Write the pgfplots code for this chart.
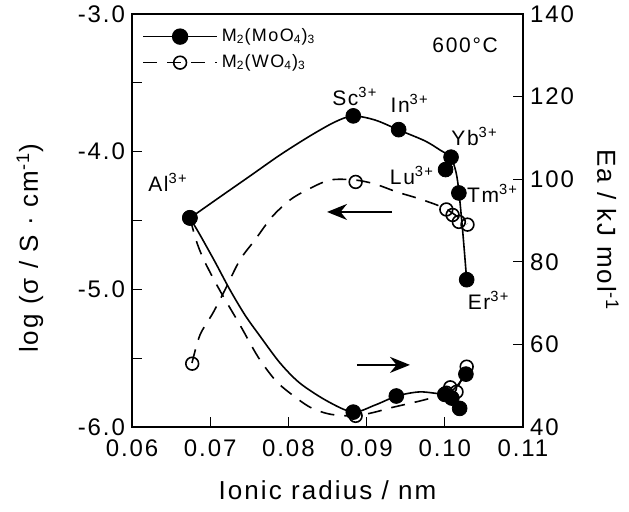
\documentclass[border=0pt]{standalone}
\usepackage{fontspec}
\setmainfont[LetterSpace=8]{Liberation Sans}
\usepackage{pgfplots}
\pgfplotsset{compat=1.18}
\usetikzlibrary{arrows.meta}

% conductivity, M2(MoO4)3 : points and guide curve
\pgfplotstableread{
x y
0.0674 -4.48
0.0883 -3.74
0.0941 -3.84
0.1001 -4.13
0.1008 -4.04
0.1018 -4.30
0.1028 -4.93
}\moSig
\pgfplotstableread{
x y
0.06742 -4.482
0.07125 -4.329
0.07509 -4.177
0.07893 -4.024
0.08276 -3.886
0.08596 -3.784
0.08826 -3.741
0.09107 -3.770
0.09414 -3.843
0.09747 -3.922
0.09939 -3.988
0.10075 -4.041
0.10143 -4.148
0.10182 -4.298
0.10233 -4.605
0.10280 -4.932
}\moSigFit
% conductivity, M2(WO4)3
\pgfplotstableread{
x y
0.0677 -5.54
0.0886 -4.22
0.1002 -4.42
0.1010 -4.46
0.1018 -4.51
0.1029 -4.53
}\wSig
\pgfplotstableread{
x y
0.06767 -5.535
0.06870 -5.331
0.07036 -5.171
0.07189 -5.004
0.07381 -4.786
0.07573 -4.641
0.07790 -4.474
0.08020 -4.351
0.08238 -4.278
0.08532 -4.206
0.08852 -4.206
0.09107 -4.235
0.09389 -4.293
0.09683 -4.344
0.10015 -4.416
0.10284 -4.525
}\wSigFit
% activation energy
\pgfplotstableread{
x y
0.0674 90.6
0.0883 43.6
0.0938 47.5
0.1000 47.9
0.1009 47.0
0.1019 44.5
0.1027 52.8
}\moEa
\pgfplotstableread{
x y
0.06742 90.6
0.06870 86.5
0.07061 80.0
0.07253 73.2
0.07445 67.1
0.07637 62.0
0.07893 55.5
0.08148 50.6
0.08494 46.3
0.08826 43.6
0.09107 45.3
0.09389 47.5
0.09683 48.5
0.10003 48.0
0.10130 49.4
0.10271 52.8
}\moEaFit
\pgfplotstableread{
x y
0.0674 90.6
0.0886 42.7
0.1002 48.3
0.1007 49.6
0.1015 48.5
0.1028 54.6
}\wEa
\pgfplotstableread{
x y
0.06742 90.6
0.06818 85.3
0.06908 80.9
0.07036 76.1
0.07164 71.7
0.07381 64.7
0.07611 57.0
0.07829 51.4
0.08020 48.2
0.08276 44.8
0.08532 43.1
0.08852 42.7
0.09107 43.6
0.09299 44.6
0.09683 46.3
0.10015 48.0
0.10143 49.0
0.10284 54.5
}\wEaFit

\begin{document}
\begin{tikzpicture}
\pgfplotsset{
  base/.style={
    width=195.5pt, height=206.5pt, scale only axis,
    xmin=0.06, xmax=0.11,
    tick align=inside, major tick length=5pt, minor tick length=5pt,
    axis line style={line width=0.6pt},
    every tick/.style={black,line width=0.6pt},
    /pgf/number format/assume math mode=true,
    tick label style={font=\fontsize{12}{14}\selectfont},
    label style={font=\fontsize{13}{15}\selectfont},
  },
  fitline/.style={black, line width=0.8pt, smooth, no marks},
  dashfit/.style={black, line width=0.8pt, smooth, no marks, dash pattern=on 7pt off 5pt},
  fullmk/.style={only marks, mark=*, mark size=3.7pt, black},
  openmk/.style={only marks, mark=o, mark size=3.2pt, black, line width=0.8pt, mark options={fill=white}},
}
\begin{axis}[base,
  ymin=-6, ymax=-3,
  ytick={-6,-5,-4,-3}, minor ytick={-5.5,-4.5,-3.5},
  xtick={0.06,0.07,0.08,0.09,0.10,0.11},
  xtick pos=left, ytick pos=left,
  scaled x ticks=false,
  xticklabel style={yshift=-3pt,/pgf/number format/.cd,fixed,fixed zerofill,precision=2},
  yticklabel style={/pgf/number format/.cd,fixed,fixed zerofill,precision=1},
  xlabel={Ionic radius / nm},
  ylabel={log (σ / S · cm\textsuperscript{-1})},
  xlabel style={at={(axis description cs:0.5,-0.153)}, anchor=center},
  ylabel style={at={(axis description cs:-0.261,0.433)}, anchor=center},
  legend style={at={(axis description cs:0.01,0.985)}, anchor=north west,
    draw=none, fill=none, font=\fontsize{9}{11}\selectfont, row sep=1pt},
  legend cell align=left,
  legend image code/.code={\draw[mark repeat=2,mark phase=2,#1]
    plot coordinates {(0cm,0cm) (0.65cm,0cm) (1.3cm,0cm)};},
]
\addlegendimage{black, line width=0.8pt, mark=*, mark size=3.7pt}
\addlegendentry{M\textsubscript{2}(MoO\textsubscript{4})\textsubscript{3}}
\addlegendimage{black, line width=0.8pt, dash pattern=on 7pt off 5pt, mark=o,
  mark size=3.2pt, mark options={solid, fill=white}}
\addlegendentry{M\textsubscript{2}(WO\textsubscript{4})\textsubscript{3}}

\addplot[dashfit, forget plot] table {\wSigFit};
\addplot[fitline, forget plot] table {\moSigFit};
\addplot[openmk, forget plot] table {\wSig};
\addplot[fullmk, forget plot] table {\moSig};

\draw[line width=0.8pt, -{Stealth[length=10pt,width=8pt]}] (axis cs:0.09325,-4.438) -- (axis cs:0.08494,-4.438);
\draw[line width=0.8pt, -{Stealth[length=10pt,width=8pt]}] (axis cs:0.08877,-5.549) -- (axis cs:0.09555,-5.549);

\begin{scope}[font=\fontsize{10.5}{12}\selectfont]
\node at (axis cs:0.0646,-4.22) {Al\textsuperscript{3+}};
\node at (axis cs:0.0885,-3.60) {Sc\textsuperscript{3+}};
\node at (axis cs:0.0955,-3.65) {In\textsuperscript{3+}};
\node at (axis cs:0.1038,-3.89) {Yb\textsuperscript{3+}};
\node at (axis cs:0.0958,-4.17) {Lu\textsuperscript{3+}};
\node at (axis cs:0.1061,-4.30) {Tm\textsuperscript{3+}};
\node at (axis cs:0.1056,-5.08) {Er\textsuperscript{3+}};
\node at (axis description cs:0.852,0.925) {600°C};
\end{scope}
\end{axis}

\begin{axis}[base,
  ymin=40, ymax=140, ytick={40,60,...,140},
  hide x axis, axis y line*=right,
  ylabel={Ea / kJ mol\textsuperscript{-1}},
  ylabel style={at={(axis description cs:1.217,0.477)}, anchor=center, rotate=180},
]
\addplot[dashfit] table {\wEaFit};
\addplot[fitline] table {\moEaFit};
\addplot[openmk] table {\wEa};
\addplot[fullmk] table {\moEa};
\end{axis}

\pgfresetboundingbox
\path[use as bounding box] ([shift={(-66pt,-42.5pt)}]current axis.south west)
  rectangle ([shift={(248.5pt,213.5pt)}]current axis.south west);
\end{tikzpicture}
\end{document}
